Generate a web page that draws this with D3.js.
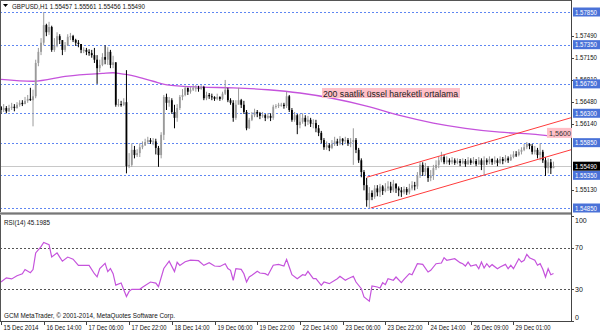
<!DOCTYPE html>
<html>
<head>
<meta charset="utf-8">
<script src="https://cdnjs.cloudflare.com/ajax/libs/d3/7.8.5/d3.min.js"></script>
<style>
body { margin: 0; background: #fff; }
text { font-family: "Liberation Sans", Arial, sans-serif; fill: #111; }
</style>
</head>
<body>
<div class="chart"></div>
<script>
// Data ---------------------------------------------------------------------
const symbol = "GBPUSD,H1";
const ohlcHeader = [1.55457, 1.55561, 1.55456, 1.55490];
const firstOpen = 1.5640;

const closes = [
1.5635,1.5638,1.5633,1.5638,1.5640,1.5638,1.5643,1.5646,1.5644,1.5649,
1.5652,1.5650,1.5656,1.5707,1.5724,1.5738,1.5765,1.5754,1.5762,1.5727,
1.5734,1.5748,1.5742,1.5727,1.5734,1.5747,1.5748,1.5742,1.5738,1.5736,
1.5727,1.5727,1.5724,1.5722,1.5719,1.5712,1.5699,1.5704,1.5716,1.5712,
1.5724,1.5704,1.5708,1.5643,1.5644,1.5643,1.5647,1.5549,1.5551,1.5574,
1.5566,1.5569,1.5578,1.5581,1.5586,1.5589,1.5586,1.5587,1.5577,1.5566,
1.5597,1.5655,1.5646,1.5650,1.5632,1.5623,1.5638,1.5655,1.5658,1.5669,
1.5663,1.5666,1.5669,1.5669,1.5667,1.5670,1.5653,1.5658,1.5656,1.5655,
1.5652,1.5655,1.5652,1.5660,1.5666,1.5650,1.5646,1.5623,1.5643,1.5650,
1.5643,1.5632,1.5607,1.5620,1.5627,1.5632,1.5630,1.5626,1.5627,1.5623,
1.5626,1.5623,1.5640,1.5641,1.5643,1.5643,1.5641,1.5656,1.5635,1.5620,
1.5627,1.5612,1.5617,1.5623,1.5617,1.5620,1.5614,1.5615,1.5607,1.5600,
1.5589,1.5578,1.5581,1.5577,1.5583,1.5587,1.5584,1.5591,1.5587,1.5589,
1.5584,1.5586,1.5589,1.5574,1.5558,1.5540,1.5520,1.5497,1.5508,1.5502,
1.5515,1.5509,1.5518,1.5511,1.5515,1.5518,1.5512,1.5522,1.5515,1.5512,
1.5509,1.5514,1.5509,1.5515,1.5520,1.5518,1.5535,1.5551,1.5540,1.5546,
1.5531,1.5535,1.5546,1.5551,1.5558,1.5563,1.5555,1.5558,1.5555,1.5558,
1.5554,1.5557,1.5554,1.5557,1.5552,1.5558,1.5554,1.5557,1.5552,1.5558,
1.5551,1.5558,1.5555,1.5560,1.5555,1.5558,1.5554,1.5560,1.5557,1.5561,
1.5558,1.5563,1.5567,1.5566,1.5571,1.5574,1.5578,1.5583,1.5580,1.5571,
1.5574,1.5566,1.5571,1.5558,1.5546,1.5555,1.5546,1.5549
];

const highs = [
1.5641,1.5644,1.5641,1.5643,1.5646,1.5644,1.5647,1.5650,1.5650,1.5655,
1.5658,1.5669,1.5666,1.5712,1.5730,1.5745,1.5785,1.5767,1.5770,1.5764,
1.5745,1.5754,1.5751,1.5742,1.5739,1.5751,1.5753,1.5750,1.5744,1.5742,
1.5736,1.5731,1.5730,1.5728,1.5727,1.5730,1.5719,1.5712,1.5722,1.5734,
1.5731,1.5727,1.5718,1.5708,1.5652,1.5649,1.5653,1.5696,1.5569,1.5584,
1.5580,1.5575,1.5584,1.5587,1.5591,1.5594,1.5592,1.5592,1.5591,1.5580,
1.5601,1.5658,1.5660,1.5655,1.5653,1.5643,1.5644,1.5658,1.5667,1.5672,
1.5669,1.5670,1.5673,1.5673,1.5672,1.5673,1.5672,1.5663,1.5661,1.5660,
1.5656,1.5660,1.5656,1.5663,1.5681,1.5669,1.5653,1.5650,1.5650,1.5669,
1.5652,1.5649,1.5635,1.5623,1.5632,1.5637,1.5635,1.5632,1.5632,1.5629,
1.5630,1.5630,1.5643,1.5644,1.5646,1.5646,1.5646,1.5663,1.5658,1.5638,
1.5632,1.5629,1.5629,1.5630,1.5627,1.5626,1.5623,1.5621,1.5620,1.5612,
1.5603,1.5592,1.5587,1.5584,1.5589,1.5594,1.5591,1.5595,1.5592,1.5594,
1.5592,1.5592,1.5607,1.5592,1.5577,1.5561,1.5543,1.5531,1.5517,1.5512,
1.5520,1.5520,1.5522,1.5520,1.5523,1.5526,1.5525,1.5528,1.5523,1.5518,
1.5517,1.5518,1.5517,1.5522,1.5526,1.5525,1.5540,1.5555,1.5555,1.5554,
1.5549,1.5543,1.5551,1.5558,1.5564,1.5571,1.5566,1.5564,1.5561,1.5563,
1.5561,1.5561,1.5560,1.5561,1.5560,1.5563,1.5561,1.5563,1.5560,1.5563,
1.5561,1.5564,1.5561,1.5564,1.5561,1.5564,1.5561,1.5564,1.5563,1.5566,
1.5564,1.5567,1.5572,1.5572,1.5575,1.5578,1.5583,1.5586,1.5584,1.5583,
1.5580,1.5577,1.5584,1.5574,1.5563,1.5561,1.5560,1.5556
];

const lows = [
1.5629,1.5632,1.5630,1.5632,1.5635,1.5633,1.5637,1.5640,1.5641,1.5644,
1.5646,1.5649,1.5610,1.5653,1.5702,1.5719,1.5734,1.5748,1.5750,1.5724,
1.5724,1.5731,1.5736,1.5719,1.5724,1.5733,1.5742,1.5739,1.5733,1.5731,
1.5722,1.5722,1.5719,1.5718,1.5715,1.5707,1.5675,1.5693,1.5702,1.5705,
1.5704,1.5699,1.5699,1.5640,1.5640,1.5640,1.5641,1.5538,1.5546,1.5548,
1.5561,1.5563,1.5563,1.5575,1.5580,1.5583,1.5583,1.5581,1.5567,1.5548,
1.5561,1.5589,1.5635,1.5640,1.5629,1.5607,1.5617,1.5635,1.5650,1.5656,
1.5658,1.5660,1.5664,1.5663,1.5663,1.5666,1.5650,1.5650,1.5652,1.5650,
1.5649,1.5650,1.5649,1.5650,1.5658,1.5647,1.5643,1.5617,1.5620,1.5644,
1.5638,1.5629,1.5604,1.5606,1.5618,1.5624,1.5624,1.5621,1.5623,1.5618,
1.5621,1.5618,1.5620,1.5637,1.5638,1.5640,1.5637,1.5638,1.5632,1.5617,
1.5617,1.5598,1.5607,1.5614,1.5610,1.5612,1.5609,1.5607,1.5601,1.5595,
1.5584,1.5574,1.5574,1.5572,1.5575,1.5580,1.5580,1.5581,1.5581,1.5583,
1.5580,1.5578,1.5551,1.5569,1.5554,1.5532,1.5512,1.5487,1.5485,1.5497,
1.5499,1.5503,1.5502,1.5505,1.5509,1.5511,1.5508,1.5509,1.5508,1.5503,
1.5502,1.5506,1.5505,1.5506,1.5512,1.5512,1.5514,1.5531,1.5534,1.5534,
1.5525,1.5526,1.5528,1.5543,1.5546,1.5555,1.5552,1.5552,1.5551,1.5552,
1.5551,1.5552,1.5549,1.5552,1.5548,1.5551,1.5551,1.5552,1.5549,1.5551,
1.5543,1.5535,1.5551,1.5552,1.5551,1.5552,1.5549,1.5552,1.5552,1.5555,
1.5554,1.5557,1.5561,1.5563,1.5564,1.5567,1.5572,1.5575,1.5575,1.5567,
1.5567,1.5561,1.5558,1.5554,1.5534,1.5538,1.5537,1.5546
];

// 200 EMA read at a few bars
const emaBars   = [0, 12, 25, 38, 42, 44, 50, 57, 63, 75, 87, 100, 112, 124, 137, 149, 162, 174, 187, 199, 206];
const emaValues = [1.5682, 1.5679, 1.5687, 1.5691, 1.5692, 1.5691, 1.5687, 1.5679, 1.5673, 1.5670, 1.5669,
                   1.5666, 1.5661, 1.5653, 1.5641, 1.5627, 1.5615, 1.5607, 1.5601, 1.5598, 1.5595];

// RSI(14) read at bars
const rsiBars = [0,2,4,6,8,9,11,12,13,15,16,18,19,21,22,23,25,27,29,33,35,36,37,39,40,41,42,43,45,47,48,49,52,53,56,58,59,61,63,65,66,67,69,71,74,
  76,78,80,82,84,85,86,87,88,90,91,92,93,94,96,97,99,100,102,104,106,107,108,109,111,113,114,115,117,118,120,121,123,126,127,129,130,132,133,135,136,138,
  139,141,142,143,144,145,147,148,150,151,153,154,156,158,160,161,163,165,166,167,170,172,173,174,175,176,178,179,180,181,182,183,184,186,187,189,190,191,
  192,194,195,196,197,198,200,201,202,203,204,205,206,207];
const rsiValues = [37,41,40,43,45,49,46,49,65,71,75,73,61,65,61,57,61,59,53,53,45,42,50,55,47,50,45,34,36,23,28,30,30,32,37,36,32.5,50,57,47,56,53,56.5,58,57.5,
  53,55.6,52.4,52,54.6,50,48.3,38.7,49.8,49.2,45,37,41.8,43.5,47.3,45.7,45,43.5,53.1,54,52.4,58.8,51.4,44,40.2,44,43.5,47.3,40.2,40.2,33.8,37,35.4,40.2,42.5,38.7,40.2,42.5,37,30.6,22.6,18.5,
  33.2,32.2,31.3,36.4,34.5,40.2,38.7,41.8,36.4,39.6,45,44,54.6,54,46.6,48.3,54.6,55.3,60.4,57.9,59.4,55.6,54.6,52.4,56.2,52.4,53.7,49.8,56.2,50.5,54.6,51.4,53.7,49.8,51.4,54,49.8,53.1,
  49.8,59.4,56.2,57.9,63.6,60.4,57.9,53.1,54.6,49.2,41.8,49.8,44,45.1985];

// Channel drawn on chart (two points each, extended right)
const channelUpper = [[137, 1.5532], [200, 1.5607]];
const channelLower = [[138.5, 1.5485], [200, 1.5558]];

const levelLines = [1.5785, 1.5735, 1.5675, 1.5630, 1.5585, 1.5535, 1.5485];
const priceTicks = [1.5749, 1.5715, 1.5681, 1.5648, 1.5614, 1.5513];
const currentPrice = 1.5549;
const rsiLevels = [70, 30];
const rsiTicks = [100, 70, 30, 0];

const timeTickBars = [0, 16, 32, 48, 64, 80, 96, 112, 128, 144, 160, 176, 192];
const timeTickLabels = ["15 Dec 2014", "16 Dec 14:00", "17 Dec 06:00", "17 Dec 22:00", "18 Dec 14:00", "19 Dec 06:00",
  "19 Dec 22:00", "22 Dec 14:00", "23 Dec 06:00", "23 Dec 22:00", "24 Dec 14:00", "26 Dec 09:00", "29 Dec 01:00"];

const emaNote = "200 saatlik üssel hareketli ortalama";
const emaPriceNote = "1,5600";

// SVG ---------------------------------------------------------------------
const width = 600, height = 333;
const plotRight = 571;
const mainTop = 2, mainBottom = 212;
const rsiTop = 215, rsiBottom = 321;

const svg = d3.select(".chart").append("svg")
  .attr("width", width).attr("height", height);

// Scales ---------------------------------------------------------------------
const xScale = d3.scaleLinear().domain([0, 207]).range([1, 553.5]);
const yScale = d3.scaleLinear().domain([1.5485, 1.5785]).range([208, 12]);
const rsiScale = d3.scaleLinear().domain([30, 70]).range([289.3, 247.7]);

const candles = closes.map((c, i) => ({
  i, close: c, open: i ? closes[i - 1] : firstOpen, high: highs[i], low: lows[i]
}));

// Clip paths
svg.append("clipPath").attr("id", "mainClip").append("rect")
  .attr("x", 0).attr("y", mainTop).attr("width", plotRight).attr("height", mainBottom - mainTop);
svg.append("clipPath").attr("id", "rsiClip").append("rect")
  .attr("x", 0).attr("y", rsiTop).attr("width", plotRight).attr("height", rsiBottom - rsiTop);

const main = svg.append("g").attr("clip-path", "url(#mainClip)");

// Level lines
main.selectAll(".level").data(levelLines).join("line")
  .attr("x1", 0).attr("x2", plotRight)
  .attr("y1", d => Math.round(yScale(d)) + 0.5).attr("y2", d => Math.round(yScale(d)) + 0.5)
  .attr("stroke", "#5f86f2").attr("stroke-dasharray", "2,2");

// current price line
main.append("line")
  .attr("x1", 0).attr("x2", plotRight)
  .attr("y1", Math.round(yScale(currentPrice)) + 0.5).attr("y2", Math.round(yScale(currentPrice)) + 0.5)
  .attr("stroke", "#c8c8c8");

// EMA
const emaLine = d3.line().x((d, i) => xScale(emaBars[i])).y(d => yScale(d)).curve(d3.curveMonotoneX);
main.append("path").datum(emaValues)
  .attr("d", emaLine).attr("fill", "none").attr("stroke", "#c553dc").attr("stroke-width", 1.3);

// Candles
const cg = main.append("g");
cg.selectAll(".wick").data(candles).join("line")
  .attr("x1", d => xScale(d.i)).attr("x2", d => xScale(d.i))
  .attr("y1", d => yScale(d.high)).attr("y2", d => yScale(d.low))
  .attr("stroke", d => d.close >= d.open ? "#9a9a9a" : "#000").attr("stroke-width", 1);
cg.selectAll(".body").data(candles).join("rect")
  .attr("x", d => xScale(d.i) - 0.9).attr("width", 1.8)
  .attr("y", d => yScale(Math.max(d.open, d.close)))
  .attr("height", d => Math.max(1, Math.abs(yScale(d.open) - yScale(d.close))))
  .attr("fill", d => d.close >= d.open ? "#9a9a9a" : "#000");

// Channel rays
const rightBar = xScale.invert(plotRight);
[channelUpper, channelLower].forEach(pts => {
  const [[b0, p0], [b1, p1]] = pts;
  const slope = (p1 - p0) / (b1 - b0);
  main.append("line")
    .attr("x1", xScale(b0)).attr("y1", yScale(p0))
    .attr("x2", xScale(rightBar)).attr("y2", yScale(p0 + slope * (rightBar - b0)))
    .attr("stroke", "#ff3b3b").attr("stroke-width", 1);
});

// EMA note
const noteX = 323, noteY = 93;
svg.append("rect").attr("x", noteX - 1).attr("y", noteY - 5).attr("width", 138).attr("height", 10).attr("fill", "#ffc0c8");
svg.append("text").attr("x", noteX).attr("y", noteY + 3.5)
  .attr("font-size", 8.5).attr("textLength", 135).attr("lengthAdjust", "spacingAndGlyphs")
  .style("fill", "#222").text(emaNote);

// Header
svg.append("path").attr("d", "M3,4 L8,4 L5.5,7 Z").attr("fill", "#000");
svg.append("text").attr("x", 12).attr("y", 9).attr("font-size", 7)
  .attr("textLength", 133).attr("lengthAdjust", "spacingAndGlyphs")
  .text(`${symbol} ${ohlcHeader.map(d3.format(".5f")).join(" ")}`);

// RSI panel ---------------------------------------------------------------------
const rsiG = svg.append("g").attr("clip-path", "url(#rsiClip)");
rsiG.selectAll(".rl").data(rsiLevels).join("line")
  .attr("x1", 0).attr("x2", plotRight)
  .attr("y1", d => Math.round(rsiScale(d)) + 0.5).attr("y2", d => Math.round(rsiScale(d)) + 0.5)
  .attr("stroke", "#555").attr("stroke-dasharray", "2,2");

const rsiLine = d3.line().x((d, i) => xScale(rsiBars[i])).y(d => rsiScale(d));
rsiG.append("path").datum(rsiValues)
  .attr("d", rsiLine).attr("fill", "none").attr("stroke", "#c553dc").attr("stroke-width", 1.2);

svg.append("text").attr("x", 4).attr("y", 225).attr("font-size", 7)
  .attr("textLength", 46).attr("lengthAdjust", "spacingAndGlyphs")
  .text(`RSI(14) ${rsiValues[rsiValues.length - 1]}`);
svg.append("text").attr("x", 4).attr("y", 318).attr("font-size", 7)
  .attr("textLength", 171).attr("lengthAdjust", "spacingAndGlyphs")
  .text("GCM MetaTrader, © 2001-2014, MetaQuotes Software Corp.");

// Frame ---------------------------------------------------------------------
svg.append("line").attr("x1", 0.5).attr("x2", 0.5).attr("y1", 0).attr("y2", rsiBottom).attr("stroke", "#555");
svg.append("line").attr("x1", 0).attr("x2", plotRight).attr("y1", 0.5).attr("y2", 0.5).attr("stroke", "#555");
svg.append("rect").attr("x", 0).attr("y", 212).attr("width", plotRight).attr("height", 3).attr("fill", "#a8a8a8");
svg.append("line").attr("x1", 0).attr("x2", plotRight).attr("y1", 213.5).attr("y2", 213.5).attr("stroke", "#777");
svg.append("line").attr("x1", plotRight + 0.5).attr("x2", plotRight + 0.5).attr("y1", 0).attr("y2", rsiBottom + 1).attr("stroke", "#444");
svg.append("line").attr("x1", 0).attr("x2", plotRight + 1).attr("y1", rsiBottom + 0.5).attr("y2", rsiBottom + 0.5).attr("stroke", "#444");

// Price axis labels ---------------------------------------------------------------------
const fmt5 = d3.format(".5f");
const axisG = svg.append("g");
priceTicks.forEach(p => {
  const y = yScale(p);
  axisG.append("line").attr("x1", plotRight).attr("x2", plotRight + 3).attr("y1", Math.round(y) + 0.5).attr("y2", Math.round(y) + 0.5).attr("stroke", "#444");
  axisG.append("text").attr("x", 575).attr("y", y + 2.5).attr("font-size", 7)
    .attr("textLength", 22).attr("lengthAdjust", "spacingAndGlyphs").text(fmt5(p));
});
function boxLabel(p, bg) {
  const y = yScale(p);
  axisG.append("rect").attr("x", plotRight + 2).attr("y", y - 4.5).attr("width", 27).attr("height", 9).attr("fill", bg);
  axisG.append("text").attr("x", 575).attr("y", y + 2.5).attr("font-size", 7)
    .attr("textLength", 22).attr("lengthAdjust", "spacingAndGlyphs")
    .style("fill", "#fff").text(fmt5(p));
}
levelLines.forEach(p => boxLabel(p, "#4a72d8"));
boxLabel(currentPrice, "#000");

// EMA price note (pink)
const epY = yScale(1.5600);
svg.append("rect").attr("x", 547).attr("y", epY - 5).attr("width", 25).attr("height", 10).attr("fill", "#ffc0c8");
svg.append("text").attr("x", 549).attr("y", epY + 3).attr("font-size", 8)
  .attr("textLength", 22).attr("lengthAdjust", "spacingAndGlyphs")
  .style("fill", "#333").text(emaPriceNote);

// RSI axis labels
rsiTicks.forEach(v => {
  const y = Math.max(rsiTop + 5, Math.min(rsiBottom - 4, rsiScale(v)));
  axisG.append("line").attr("x1", plotRight).attr("x2", plotRight + 3).attr("y1", Math.round(rsiScale(v)) + 0.5).attr("y2", Math.round(rsiScale(v)) + 0.5).attr("stroke", "#444");
  axisG.append("text").attr("x", 575).attr("y", y + 2.5).attr("font-size", 7).text(v);
});

// Time axis
timeTickBars.forEach((b, i) => {
  const x = Math.round(xScale(b)) + 0.5;
  svg.append("line").attr("x1", x).attr("x2", x).attr("y1", rsiBottom).attr("y2", rsiBottom + 4).attr("stroke", "#444");
  svg.append("text").attr("x", x + 2).attr("y", 330).attr("font-size", 7)
    .attr("textLength", 35).attr("lengthAdjust", "spacingAndGlyphs").text(timeTickLabels[i]);
});
</script>
</body>
</html>
